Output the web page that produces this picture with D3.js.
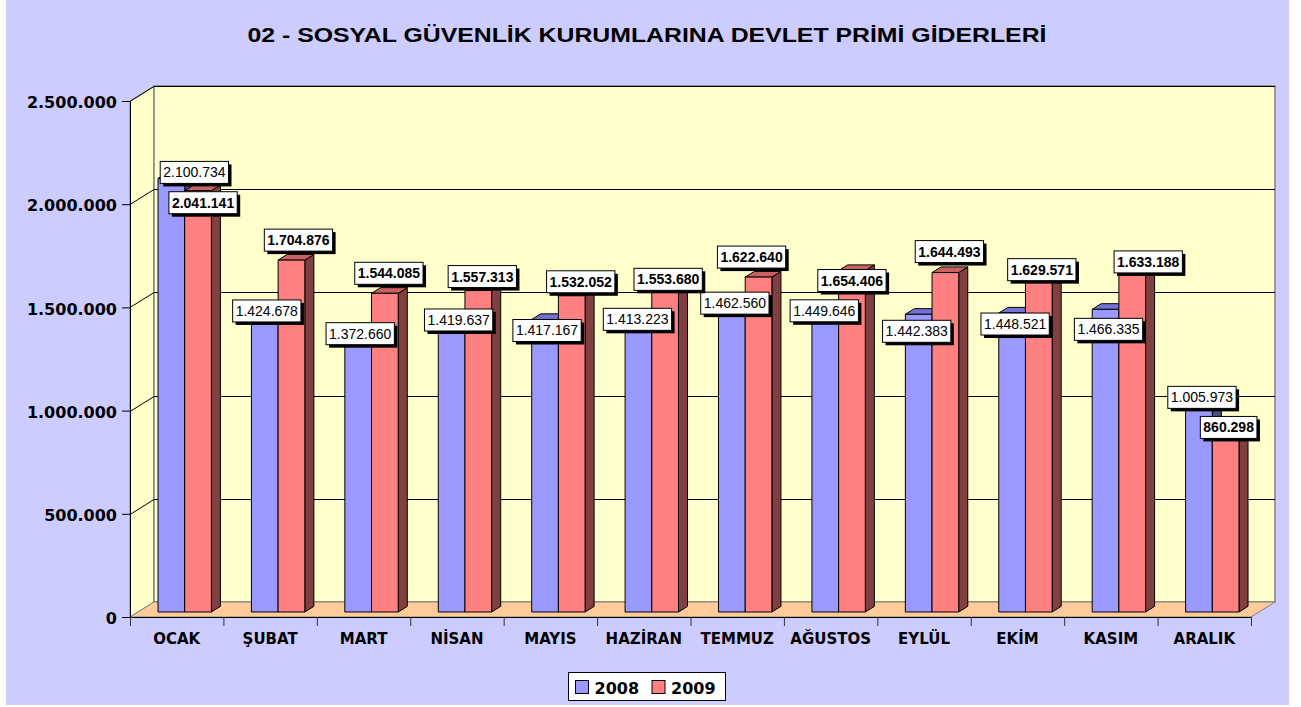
<!DOCTYPE html>
<html>
<head>
<meta charset="utf-8">
<script src="https://cdn.jsdelivr.net/npm/d3@7"></script>
<style>
  html, body { margin: 0; padding: 0; background: #ffffff; }
  svg { display: block; }
</style>
</head>
<body>
<svg id="chart" width="1301" height="707"></svg>
<script>
// ---- data ----
const months = ["OCAK", "ŞUBAT", "MART", "NİSAN", "MAYIS", "HAZİRAN", "TEMMUZ", "AĞUSTOS", "EYLÜL", "EKİM", "KASIM", "ARALIK"];
const values2008 = [2100734, 1424678, 1372660, 1419637, 1417167, 1413223, 1462560, 1449646, 1442383, 1448521, 1466335, 1005973];
const values2009 = [2041141, 1704876, 1544085, 1557313, 1532052, 1553680, 1622640, 1654406, 1644493, 1629571, 1633188, 860298];
const seriesNames = ["2008", "2009"];
const yTicks = [0, 500000, 1000000, 1500000, 2000000, 2500000];
const titleText = "02 - SOSYAL GÜVENLİK KURUMLARINA DEVLET PRİMİ GİDERLERİ";

// value label placement: [dx, dy] from the top centre of each bar's front face
const labelOffsets2008 = [[23, -6], [2, -7], [2, 5], [7, 1], [2, 11], [-1, -1], [3, -7], [-1, -2], [-2, 17], [3, 11], [3, 20], [3, -7]];
const labelOffsets2009 = [[5, 12], [7, -20], [4, -20], [4, -14], [9, -14], [3, -12], [-7, -20], [0, 10], [4, -21], [3, -6], [16, -13], [3, -7]];

// ---- layout ----
const svg = d3.select("#chart");
const fmt = d3.formatLocale({ decimal: ",", thousands: ".", grouping: [3], currency: ["", ""] }).format(",d");

const X0 = 130, X1 = 1251, Y0 = 617, Y1 = 101;
const DX = 24, DY = -15;          // depth of the 3D plot box
const FRONT = 1 / 3, BACK = 0.71; // depth fractions of the bar faces

const x = d3.scaleBand().domain(months).range([X0, X1]);
const y = d3.scaleLinear().domain([0, 2500000]).range([Y0, Y1]);
const barW = x.bandwidth() / 3.5;  // gap width 150%

const series = [
  { name: seriesNames[0], values: values2008, front: "#9999FF", top: "#7272D6", side: "#4D4D80", offsets: labelOffsets2008, bold: false },
  { name: seriesNames[1], values: values2009, front: "#FF8080", top: "#C86262", side: "#804040", offsets: labelOffsets2009, bold: true }
];

// background
svg.append("rect").attr("x", 6).attr("y", 0).attr("width", 1283).attr("height", 705).attr("fill", "#CCCCFF");

// title
svg.append("text")
  .attr("x", 647).attr("y", 42)
  .attr("text-anchor", "middle")
  .attr("font-family", "Liberation Sans, Arial, sans-serif")
  .attr("font-weight", "bold")
  .attr("font-size", 20)
  .attr("textLength", 799)
  .attr("lengthAdjust", "spacingAndGlyphs")
  .attr("fill", "#000")
  .text(titleText);

// walls and floor
const wallStroke = "#808080";
svg.append("polygon")
  .attr("points", [[X0, Y1], [X0 + DX, Y1 + DY], [X0 + DX, Y0 + DY], [X0, Y0]].join(" "))
  .attr("fill", "#FFFFCC").attr("stroke", wallStroke).attr("stroke-width", 1);
svg.append("rect")
  .attr("x", X0 + DX).attr("y", Y1 + DY)
  .attr("width", X1 - X0).attr("height", Y0 - Y1)
  .attr("fill", "#FFFFCC").attr("stroke", wallStroke).attr("stroke-width", 1.5);
svg.append("polygon")
  .attr("points", [[X0, Y0], [X1, Y0], [X1 + DX, Y0 + DY], [X0 + DX, Y0 + DY]].join(" "))
  .attr("fill", "#FFCC99").attr("stroke", wallStroke).attr("stroke-width", 1);

// gridlines on back wall and side wall
const grid = svg.append("g").attr("stroke", "#000").attr("stroke-width", 1).attr("fill", "none");
yTicks.filter(v => v > 0).forEach(v => {
  const yy = Math.round(y(v)) + 0.5;
  grid.append("line").attr("x1", X0 + DX).attr("x2", X1 + DX).attr("y1", yy + DY).attr("y2", yy + DY);
  grid.append("line").attr("x1", X0).attr("x2", X0 + DX).attr("y1", yy).attr("y2", yy + DY);
});

// y axis
const yAxis = d3.axisLeft(y).tickValues(yTicks).tickFormat(fmt).tickSizeInner(8).tickSizeOuter(0).tickPadding(5);
const gy = svg.append("g").attr("transform", `translate(${X0},0)`).call(yAxis);
gy.select(".domain").attr("stroke", "#000");
gy.selectAll(".tick line").attr("stroke", "#000");
gy.selectAll(".tick text")
  .attr("font-family", "DejaVu Sans, sans-serif")
  .attr("font-weight", "bold")
  .attr("font-size", 16)
  .attr("fill", "#000")
  .attr("dy", "0.42em");

// x axis: boundary ticks and category names
const xEdges = d3.scaleLinear().domain([0, months.length]).range([X0, X1]);
const xTickAxis = d3.axisBottom(xEdges).ticks(months.length).tickFormat("").tickSizeInner(9).tickSizeOuter(0);
const gxt = svg.append("g").attr("transform", `translate(0,${Y0})`).call(xTickAxis);
gxt.select(".domain").attr("stroke", "#000");
gxt.selectAll(".tick line").attr("stroke", "#333");

const xLabelAxis = d3.axisBottom(x).tickSize(0).tickPadding(16);
const gxl = svg.append("g").attr("transform", `translate(0,${Y0})`).call(xLabelAxis);
gxl.select(".domain").remove();
gxl.selectAll(".tick text")
  .attr("font-family", "DejaVu Sans, sans-serif")
  .attr("font-weight", "bold")
  .attr("font-size", 15)
  .attr("fill", "#000");

// bars (drawn left to right, 2008 before 2009 so overlaps stack correctly)
const fdx = DX * FRONT, fdy = DY * FRONT;
const ddx = DX * (BACK - FRONT), ddy = DY * (BACK - FRONT);
const barsG = svg.append("g").attr("stroke", "#000").attr("stroke-width", 1).attr("stroke-linejoin", "round");

function barGeom(mi, si) {
  const s = series[si];
  const xl = x(months[mi]) + x.bandwidth() / 2 - barW + si * barW + fdx;
  const xr = xl + barW;
  const yb = Y0 + fdy;
  const yt = y(s.values[mi]) + fdy;
  return { xl, xr, yb, yt };
}

months.forEach((m, mi) => {
  series.forEach((s, si) => {
    const g = barGeom(mi, si);
    barsG.append("polygon")
      .attr("points", [[g.xr, g.yb], [g.xr + ddx, g.yb + ddy], [g.xr + ddx, g.yt + ddy], [g.xr, g.yt]].join(" "))
      .attr("fill", s.side);
    barsG.append("polygon")
      .attr("points", [[g.xl, g.yt], [g.xr, g.yt], [g.xr + ddx, g.yt + ddy], [g.xl + ddx, g.yt + ddy]].join(" "))
      .attr("fill", s.top);
    barsG.append("rect")
      .attr("x", g.xl).attr("y", g.yt)
      .attr("width", barW).attr("height", g.yb - g.yt)
      .attr("fill", s.front);
  });
});

// value labels
const labelsG = svg.append("g");
series.forEach((s, si) => {
  months.forEach((m, mi) => {
    const g = barGeom(mi, si);
    const cx = (g.xl + g.xr) / 2 + s.offsets[mi][0];
    const cy = g.yt + s.offsets[mi][1];
    const lg = labelsG.append("g");
    const shadow = lg.append("rect").attr("fill", "#000");
    const box = lg.append("rect").attr("fill", "#fff").attr("stroke", "#000").attr("stroke-width", 1);
    const t = lg.append("text")
      .attr("x", cx).attr("y", cy + 5)
      .attr("text-anchor", "middle")
      .attr("font-family", "Liberation Sans, Arial, sans-serif")
      .attr("font-weight", s.bold ? "bold" : "normal")
      .attr("font-size", 14)
      .attr("fill", "#000")
      .text(fmt(s.values[mi]));
    const w = t.node().getComputedTextLength() + 6, h = 22;
    box.attr("x", cx - w / 2).attr("y", cy - h / 2).attr("width", w).attr("height", h);
    shadow.attr("x", cx - w / 2 + 3).attr("y", cy - h / 2 + 3).attr("width", w).attr("height", h);
  });
});

// legend
const lg = svg.append("g");
lg.append("rect").attr("x", 568.5).attr("y", 672.5).attr("width", 157).attr("height", 28)
  .attr("fill", "#fff").attr("stroke", "#000").attr("stroke-width", 1);
const legendX = [575.5, 652];
series.forEach((s, si) => {
  lg.append("rect").attr("x", legendX[si]).attr("y", 680.5).attr("width", 13).attr("height", 13)
    .attr("fill", s.front).attr("stroke", "#000").attr("stroke-width", 1);
  lg.append("text")
    .attr("x", legendX[si] + 19).attr("y", 693.5)
    .attr("font-family", "DejaVu Sans, sans-serif")
    .attr("font-weight", "bold")
    .attr("font-size", 16)
    .attr("fill", "#000")
    .text(s.name);
});
</script>
</body>
</html>
